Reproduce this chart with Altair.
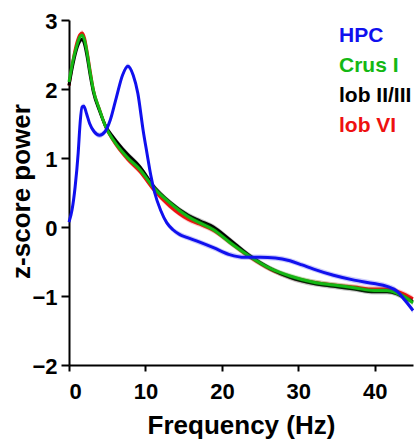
import altair as alt
import pandas as pd

# ---- data ----
series_names = ["HPC", "Crus I", "lob II/III", "lob VI"]
series_colors = ["#1010ee", "#14b814", "#000000", "#ee1010"]

hpc_f = [0, 0.4, 0.8, 1.2, 1.45, 1.7, 1.95, 2.3, 2.7, 3.3, 4.0, 4.7, 5.4, 6.2,
         7.0, 7.7, 8.4, 9.0, 9.7, 10.2, 10.7, 11.2, 12.0, 12.8, 13.6, 14.5,
         15.4, 17.1, 18.9, 21.0, 23.0, 25.0, 27.0, 28.9, 30.5, 32.0, 34.6, 37.3,
         39.9, 41.6, 42.9, 44.0, 45.0]
hpc_z = [0.07, 0.25, 0.58, 1.07, 1.5, 1.74, 1.75, 1.64, 1.5, 1.38, 1.33, 1.38,
         1.55, 1.88, 2.2, 2.33, 2.2, 1.94, 1.4, 1.07, 0.75, 0.5, 0.24, 0.06,
         -0.04, -0.11, -0.15, -0.22, -0.3, -0.4, -0.44, -0.44, -0.45, -0.49,
         -0.55, -0.61, -0.7, -0.77, -0.82, -0.86, -0.93, -1.07, -1.21]

cb_f = [0, 0.5, 1.0, 1.45, 1.75, 2.05, 2.4, 2.8, 3.2, 4.0, 4.8, 5.8, 7.6, 9.3,
        11.0, 13.2, 15.6, 17.1, 18.9, 21.0, 23.7, 26.3, 28.9, 32.0, 34.6, 37.3,
        39.9, 41.6, 42.9, 44.0, 45.0]
crus_z = [2.1, 2.4, 2.62, 2.76, 2.78, 2.7, 2.5, 2.22, 1.98, 1.7, 1.45, 1.26,
          1.01, 0.83, 0.58, 0.35, 0.15, 0.06, -0.04, -0.22, -0.43, -0.6, -0.71,
          -0.8, -0.84, -0.88, -0.92, -0.92, -0.96, -1.02, -1.1]
lob23_z = [2.05, 2.35, 2.58, 2.7, 2.72, 2.64, 2.45, 2.18, 1.95, 1.68, 1.46,
           1.3, 1.06, 0.87, 0.6, 0.36, 0.17, 0.09, 0.0, -0.18, -0.42, -0.6,
           -0.73, -0.82, -0.86, -0.9, -0.94, -0.94, -0.97, -1.03, -1.08]
lob6_z = [2.05, 2.4, 2.66, 2.79, 2.81, 2.73, 2.52, 2.24, 1.98, 1.7, 1.45, 1.25,
          0.99, 0.8, 0.55, 0.3, 0.11, 0.04, -0.05, -0.22, -0.44, -0.61, -0.72,
          -0.8, -0.84, -0.87, -0.9, -0.9, -0.93, -0.98, -1.04]
sem = 0.04

x_ticks = [0, 10, 20, 30, 40]
y_ticks = [-2, -1, 0, 1, 2, 3]

data_by_series = {
    "HPC": (hpc_f, hpc_z),
    "Crus I": (cb_f, crus_z),
    "lob II/III": (cb_f, lob23_z),
    "lob VI": (cb_f, lob6_z),
}
rows = []
for name, (fs, zs) in data_by_series.items():
    for f, z in zip(fs, zs):
        rows.append({"series": name, "freq": f, "z": z, "lo": z - sem, "hi": z + sem})
df = pd.DataFrame(rows)

FONT = "Liberation Sans"
color_of = dict(zip(series_names, series_colors))

color_scale = alt.Scale(domain=series_names, range=series_colors)
label_expr = ("datum.label == 'HPC' ? '#1010ee' : datum.label == 'Crus I' ? '#14b814' : "
              "datum.label == 'lob VI' ? '#ee1010' : '#000000'")

y_scale = alt.Scale(domain=[-2, 3], nice=False, zero=False)
x_enc = alt.X("freq:Q", scale=alt.Scale(domain=[0, 45], nice=False, zero=False),
              axis=alt.Axis(values=x_ticks, title="Frequency (Hz)", tickSize=6,
                            labelBaseline="alphabetic", labelPadding=27,
                            titleX=172, titleY=68, titleBaseline="alphabetic",
                            titleAnchor=None))
y_enc = alt.Y("z:Q", scale=y_scale,
              axis=alt.Axis(values=y_ticks, format="d", title="z-score power", tickSize=8,
                            labelPadding=4, labelBaseline="alphabetic", labelOffset=8,
                            titleX=-48, titleY=171, titleBaseline="middle",
                            titleAngle=270))

legend = alt.Legend(title=None, orient="none", legendX=249, legendY=5,
                    symbolSize=0, symbolOpacity=0, symbolStrokeWidth=0,
                    labelOffset=0, labelFont=FONT, labelFontSize=21,
                    labelFontWeight="bold", rowPadding=8, padding=0, labelLimit=200,
                    labelColor={"expr": label_expr})

layers = []
for name in ["lob VI", "lob II/III", "Crus I", "HPC"]:
    sub = df[df["series"] == name]
    band = alt.Chart(sub).mark_area(opacity=0.22, interpolate="monotone",
                                    color=color_of[name]).encode(
        x=x_enc, y=alt.Y("lo:Q", scale=y_scale), y2="hi:Q",
    )
    line = alt.Chart(sub).mark_line(strokeWidth=3, interpolate="monotone").encode(
        x=x_enc, y=y_enc,
        color=alt.Color("series:N", scale=color_scale, legend=legend),
    )
    layers += [band, line]

chart = alt.layer(*layers).properties(
    width=344, height=345,
    autosize=alt.AutoSizeParams(type="none"),
    padding={"left": 69, "top": 20, "right": 1, "bottom": 75},
).configure_view(stroke=None).configure_axis(
    grid=False, domainColor="black", domainWidth=2, tickColor="black", tickWidth=2,
    labelFont=FONT, labelFontSize=22, labelFontWeight="bold", labelColor="black",
    titleFont=FONT, titleFontSize=26, titleFontWeight="bold", titleColor="black",
)

chart.save("out.html", embed_options={"renderer": "svg", "actions": False})
